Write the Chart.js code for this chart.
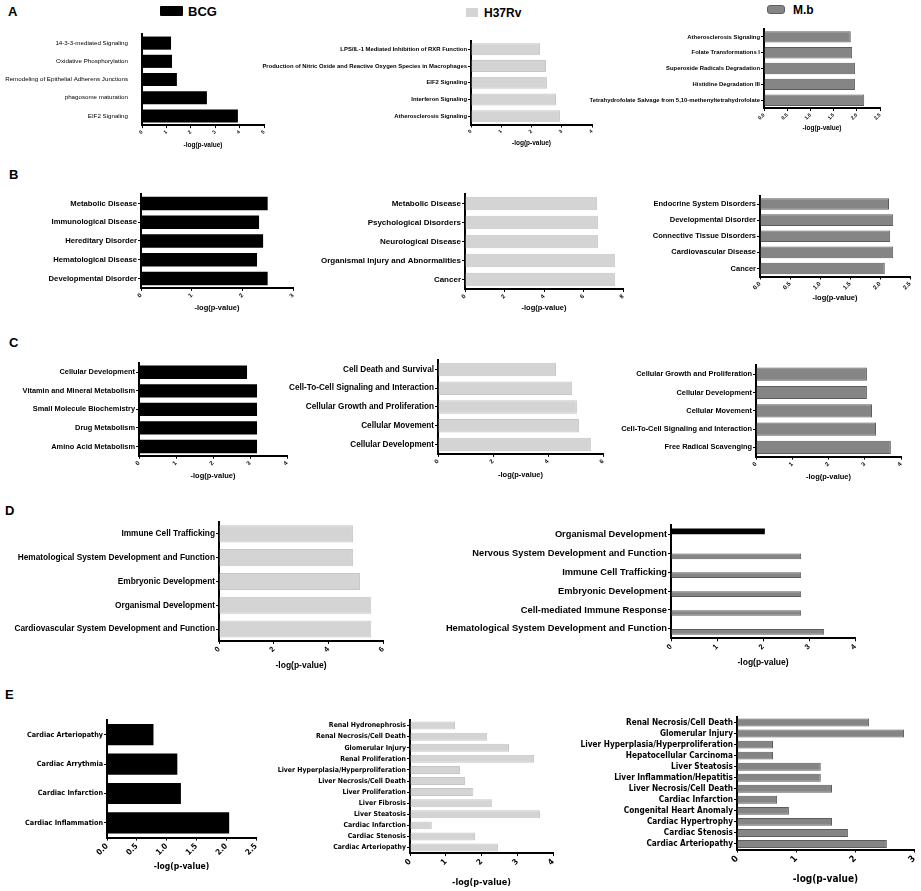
<!DOCTYPE html>
<html lang="en">
<head>
<meta charset="UTF-8">
<title>IPA analysis</title>
<script src="https://cdn.jsdelivr.net/npm/chart.js@4.4.1/dist/chart.umd.min.js"></script>
<style>
  body { margin: 0; background: #fff; width: 921px; height: 891px; position: relative; overflow: hidden;
         font-family: 'Liberation Sans', Arial, sans-serif; }
  canvas { position: absolute; }
  .letter { position: absolute; font-weight: bold; font-size: 13px; line-height: 13px; }
  .keybox { position: absolute; box-sizing: border-box; }
  .keytext { position: absolute; font-weight: bold; font-size: 12px; line-height: 12px; }
</style>
</head>
<body>
<div class="letter" style="left:8px;top:5px">A</div>
<div class="letter" style="left:9px;top:168px">B</div>
<div class="letter" style="left:9px;top:336px">C</div>
<div class="letter" style="left:5px;top:504px">D</div>
<div class="letter" style="left:5px;top:688px">E</div>

<div class="keybox" style="left:160px;top:6px;width:23px;height:10px;background:#000;border-radius:1px"></div>
<div class="keytext" style="left:188px;top:5px;font-size:13px;line-height:13px">BCG</div>
<div class="keybox" style="left:466px;top:8px;width:12px;height:9px;background:#d4d4d4"></div>
<div class="keytext" style="left:484px;top:7px">H37Rv</div>
<div class="keybox" style="left:767px;top:5px;width:18px;height:9px;background:#858585;border:1px solid #5f5f5f;border-radius:3px"></div>
<div class="keytext" style="left:793px;top:4px">M.b</div>

<script>
// ---- A: canonical pathways ----
const aBcgLabels = ['14-3-3-mediated Signaling', 'Oxidative Phosphorylation', 'Remodeling of Epithelial Adherens Junctions', 'phagosome maturation', 'EIF2 Signaling'];
const aBcgValues = [1.19, 1.23, 1.43, 2.66, 3.93];
const aBcgTicks = [0, 1, 2, 3, 4, 5];
const aH37Labels = ['LPS/IL-1 Mediated Inhibition of RXR Function', 'Production of Nitric Oxide and Reactive Oxygen Species in Macrophages', 'EIF2 Signaling', 'Interferon Signaling', 'Atherosclerosis Signaling'];
const aH37Values = [2.28, 2.48, 2.51, 2.81, 2.94];
const aH37Ticks = [0, 1, 2, 3, 4];
const aMbLabels = ['Atherosclerosis Signaling', 'Folate Transformations I', 'Superoxide Radicals Degradation', 'Histidine Degradation III', 'Tetrahydrofolate Salvage from 5,10-methenyltetrahydrofolate'];
const aMbValues = [1.87, 1.90, 1.96, 1.96, 2.16];
const aMbTicks = [0, 0.5, 1.0, 1.5, 2.0, 2.5];

// ---- B: diseases and disorders ----
const bBcgLabels = ['Metabolic Disease', 'Immunological Disease', 'Hereditary Disorder', 'Hematological Disease', 'Developmental Disorder'];
const bBcgValues = [2.50, 2.33, 2.41, 2.29, 2.50];
const bBcgTicks = [0, 1, 2, 3];
const bH37Labels = ['Metabolic Disease', 'Psychological Disorders', 'Neurological Disease', 'Organismal Injury and Abnormalities', 'Cancer'];
const bH37Values = [6.68, 6.73, 6.73, 7.59, 7.59];
const bH37Ticks = [0, 2, 4, 6, 8];
const bMbLabels = ['Endocrine System Disorders', 'Developmental Disorder', 'Connective Tissue Disorders', 'Cardiovascular Disease', 'Cancer'];
const bMbValues = [2.15, 2.22, 2.17, 2.22, 2.08];
const bMbTicks = [0, 0.5, 1.0, 1.5, 2.0, 2.5];

// ---- C: molecular and cellular functions ----
const cBcgLabels = ['Cellular Development', 'Vitamin and Mineral Metabolism', 'Small Molecule Biochemistry', 'Drug Metabolism', 'Amino Acid Metabolism'];
const cBcgValues = [2.92, 3.19, 3.19, 3.19, 3.19];
const cBcgTicks = [0, 1, 2, 3, 4];
const cH37Labels = ['Cell Death and Survival', 'Cell-To-Cell Signaling and Interaction', 'Cellular Growth and Proliferation', 'Cellular Movement', 'Cellular Development'];
const cH37Values = [4.29, 4.87, 5.05, 5.13, 5.56];
const cH37Ticks = [0, 2, 4, 6];
const cMbLabels = ['Cellular Growth and Proliferation', 'Cellular Development', 'Cellular Movement', 'Cell-To-Cell Signaling and Interaction', 'Free Radical Scavenging'];
const cMbValues = [3.06, 3.06, 3.20, 3.31, 3.72];
const cMbTicks = [0, 1, 2, 3, 4];

// ---- D: physiological system development ----
const dH37Labels = ['Immune Cell Trafficking', 'Hematological System Development and Function', 'Embryonic Development', 'Organismal Development', 'Cardiovascular System Development and Function'];
const dH37Values = [4.90, 4.90, 5.16, 5.57, 5.57];
const dH37Ticks = [0, 2, 4, 6];
const dRightLabels = ['Organismal Development', 'Nervous System Development and Function', 'Immune Cell Trafficking', 'Embryonic Development', 'Cell-mediated Immune Response', 'Hematological System Development and Function'];
const dRightBcg = [2.04, null, null, null, null, null];
const dRightMb = [null, 2.83, 2.83, 2.83, 2.83, 3.33];
const dRightTicks = [0, 1, 2, 3, 4];

// ---- E: toxicity functions ----
const eBcgLabels = ['Cardiac Arteriopathy', 'Cardiac Arrythmia', 'Cardiac Infarction', 'Cardiac Inflammation'];
const eBcgValues = [0.78, 1.18, 1.24, 2.05];
const eBcgTicks = [0, 0.5, 1.0, 1.5, 2.0, 2.5];
const eH37Labels = ['Renal Hydronephrosis', 'Renal Necrosis/Cell Death', 'Glomerular Injury', 'Renal Proliferation', 'Liver Hyperplasia/Hyperproliferation', 'Liver Necrosis/Cell Death', 'Liver Proliferation', 'Liver Fibrosis', 'Liver Steatosis', 'Cardiac Infarction', 'Cardiac Stenosis', 'Cardiac Arteriopathy'];
const eH37Values = [1.26, 2.16, 2.77, 3.47, 1.40, 1.54, 1.77, 2.29, 3.64, 0.61, 1.82, 2.46];
const eH37Ticks = [0, 1, 2, 3, 4];
const eMbLabels = ['Renal Necrosis/Cell Death', 'Glomerular Injury', 'Liver Hyperplasia/Hyperproliferation', 'Hepatocellular Carcinoma', 'Liver Steatosis', 'Liver Inflammation/Hepatitis', 'Liver Necrosis/Cell Death', 'Cardiac Infarction', 'Congenital Heart Anomaly', 'Cardiac Hypertrophy', 'Cardiac Stenosis', 'Cardiac Arteriopathy'];
const eMbValues = [2.24, 2.83, 0.61, 0.61, 1.42, 1.42, 1.61, 0.68, 0.88, 1.61, 1.88, 2.54];
const eMbTicks = [0, 1, 2, 3];

const BCG = { backgroundColor: '#000', borderColor: '#000', borderWidth: 0 };
const H37 = { backgroundColor: '#d4d4d4', borderColor: '#c6c6c6', borderWidth: 1 };
const MB  = { backgroundColor: '#858585', borderColor: '#5c5c5c', borderWidth: 1 };

const SANS = "'Liberation Sans', Arial, sans-serif";
const NARROW = "'Liberation Sans Narrow', 'Arial Narrow', 'DejaVu Sans Condensed', sans-serif";

function bars(style, values) {
  return Object.assign({ data: values, categoryPercentage: 0.8, barPercentage: 0.9 }, style);
}

// p: axisX / top / bottom / right are pixel positions on the page of the plot box
function panel(p) {
  const padTop = 6, padRight = 12;
  const left = p.axisX - p.labelW;
  const top = p.top - padTop;
  const bottom = p.titleY + p.titleSize * 0.6;
  const cv = document.createElement('canvas');
  cv.width = Math.round(p.labelW + (p.right - p.axisX) + padRight);
  cv.height = Math.round(bottom - top);
  cv.style.left = left + 'px';
  cv.style.top = top + 'px';
  document.body.appendChild(cv);

  const ticks = p.ticks;
  const dec = p.decimals || 0;
  const family = p.family || SANS;
  const yTick = p.yTickLen === undefined ? 3 : p.yTickLen;

  new Chart(cv, {
    type: 'bar',
    data: { labels: p.labels, datasets: p.datasets },
    options: {
      indexAxis: 'y',
      responsive: false,
      animation: false,
      layout: { padding: { top: padTop, right: padRight, left: 0, bottom: 0 } },
      plugins: { legend: { display: false }, tooltip: { enabled: false } },
      scales: {
        y: {
          offset: true,
          grid: { offset: false, drawOnChartArea: false, drawTicks: yTick > 0, tickLength: yTick, color: '#000', lineWidth: 1 },
          border: { display: true, color: '#000', width: 2 },
          ticks: { autoSkip: false, color: '#000', padding: p.yPad || 1,
                   font: { family: family, size: p.labelSize, weight: p.labelWeight || 'bold' } },
          afterFit: s => { s.width = p.labelW; s.paddingTop = 0; s.paddingBottom = 0; }
        },
        x: {
          min: ticks[0],
          max: ticks[ticks.length - 1],
          grid: { drawOnChartArea: false, tickLength: 3, color: '#000', lineWidth: 1 },
          border: { display: true, color: '#000', width: 2 },
          ticks: { stepSize: ticks[1] - ticks[0], autoSkip: false, minRotation: 45, maxRotation: 45,
                   color: '#000', padding: 1,
                   font: { family: family, size: p.tickSize, weight: 'bold' },
                   callback: v => Number(v).toFixed(dec) },
          title: { display: true, text: '-log(p-value)', color: '#000', padding: 0,
                   font: { family: family, size: p.titleSize, weight: 'bold' } },
          afterFit: s => { s.height = bottom - p.bottom; s.paddingLeft = 0; s.paddingRight = 0; }
        }
      }
    }
  });
}

// row A
panel({ labels: aBcgLabels, datasets: [bars(BCG, aBcgValues)], ticks: aBcgTicks,
        axisX: 142, top: 34, bottom: 125, right: 264, labelW: 142, titleY: 145,
        labelSize: 6.2, labelWeight: 'normal', tickSize: 5, titleSize: 6.5, yTickLen: 0, yPad: 14 });
panel({ labels: aH37Labels, datasets: [bars(H37, aH37Values)], ticks: aH37Ticks,
        axisX: 471, top: 40.6, bottom: 124.4, right: 592, labelW: 225, titleY: 143,
        labelSize: 5.9, tickSize: 5, titleSize: 6.5 });
panel({ labels: aMbLabels, datasets: [bars(MB, aMbValues)], ticks: aMbTicks, decimals: 1,
        axisX: 764, top: 29, bottom: 108, right: 880, labelW: 200, titleY: 128,
        labelSize: 5.9, tickSize: 5, titleSize: 6.5 });

// row B
panel({ labels: bBcgLabels, datasets: [bars(BCG, bBcgValues)], ticks: bBcgTicks,
        axisX: 141, top: 193.6, bottom: 287.4, right: 293, labelW: 141, titleY: 307,
        labelSize: 7.7, tickSize: 6, titleSize: 7.5 });
panel({ labels: bH37Labels, datasets: [bars(H37, bH37Values)], ticks: bH37Ticks,
        axisX: 465, top: 193.5, bottom: 288.5, right: 623, labelW: 160, titleY: 307,
        labelSize: 8, tickSize: 6, titleSize: 7.5 });
panel({ labels: bMbLabels, datasets: [bars(MB, bMbValues)], ticks: bMbTicks, decimals: 1,
        axisX: 760, top: 196, bottom: 276, right: 910, labelW: 130, titleY: 297,
        labelSize: 7.5, tickSize: 6, titleSize: 7.5 });

// row C
panel({ labels: cBcgLabels, datasets: [bars(BCG, cBcgValues)], ticks: cBcgTicks,
        axisX: 139, top: 362.75, bottom: 455.25, right: 287, labelW: 139, titleY: 475,
        labelSize: 7.4, tickSize: 6, titleSize: 7.5 });
panel({ labels: cH37Labels, datasets: [bars(H37, cH37Values)], ticks: cH37Ticks,
        axisX: 438, top: 359.6, bottom: 453.4, right: 603, labelW: 160, titleY: 474,
        labelSize: 8.2, tickSize: 6, titleSize: 7.5 });
panel({ labels: cMbLabels, datasets: [bars(MB, cMbValues)], ticks: cMbTicks,
        axisX: 756, top: 364.9, bottom: 456.1, right: 901, labelW: 150, titleY: 476,
        labelSize: 7.4, tickSize: 6, titleSize: 7.5 });

// row D
panel({ labels: dH37Labels, datasets: [bars(H37, dH37Values)], ticks: dH37Ticks,
        axisX: 219, top: 522, bottom: 641, right: 383, labelW: 219, titleY: 666,
        labelSize: 8.3, tickSize: 7.5, titleSize: 8.5 });
panel({ labels: dRightLabels,
        datasets: [
          Object.assign({ data: dRightBcg, categoryPercentage: 0.64, barPercentage: 0.95 }, BCG),
          Object.assign({ data: dRightMb, categoryPercentage: 0.64, barPercentage: 0.95 }, MB)
        ],
        ticks: dRightTicks,
        axisX: 671, top: 524.6, bottom: 637.4, right: 855, labelW: 250, titleY: 662,
        labelSize: 9.3, tickSize: 7.5, titleSize: 8.5 });

// row E
panel({ labels: eBcgLabels, datasets: [bars(BCG, eBcgValues)], ticks: eBcgTicks, decimals: 1,
        axisX: 107, top: 720.3, bottom: 837.7, right: 256, labelW: 107, titleY: 867,
        labelSize: 7.2, tickSize: 8, titleSize: 8.5, family: NARROW });
panel({ labels: eH37Labels, datasets: [bars(H37, eH37Values)], ticks: eH37Ticks,
        axisX: 410, top: 719.5, bottom: 852.5, right: 553, labelW: 150, titleY: 882,
        labelSize: 6.9, tickSize: 8, titleSize: 9, family: NARROW });
panel({ labels: eMbLabels, datasets: [bars(MB, eMbValues)], ticks: eMbTicks,
        axisX: 737, top: 716.5, bottom: 848.5, right: 914, labelW: 180, titleY: 878,
        labelSize: 8.2, tickSize: 9, titleSize: 10, family: NARROW });
</script>
</body>
</html>
